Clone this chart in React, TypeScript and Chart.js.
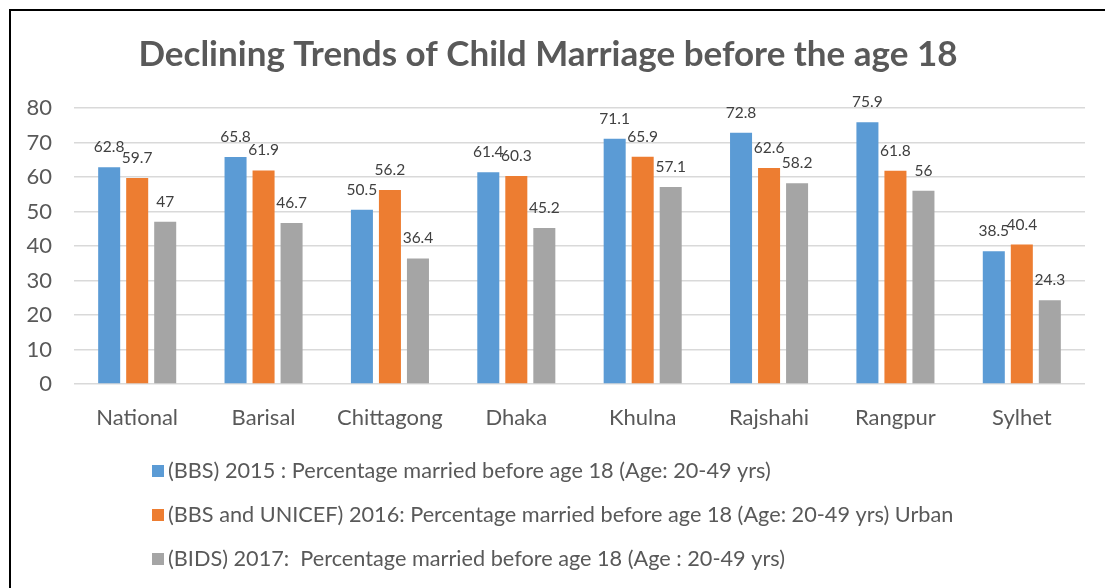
import React, { useEffect, useRef } from "react";
import { Chart, registerables } from "chart.js";

Chart.register(...registerables);

const categories = ["National", "Barisal", "Chittagong", "Dhaka", "Khulna", "Rajshahi", "Rangpur", "Sylhet"];
const bbs2015 = [62.8, 65.8, 50.5, 61.4, 71.1, 72.8, 75.9, 38.5];
const unicef2016 = [59.7, 61.9, 56.2, 60.3, 65.9, 62.6, 61.8, 40.4];
const bids2017 = [47, 46.7, 36.4, 45.2, 57.1, 58.2, 56, 24.3];
const seriesLabels = [
  "(BBS) 2015 : Percentage married before age 18 (Age: 20-49 yrs)",
  "(BBS and UNICEF) 2016: Percentage married before age 18 (Age: 20-49 yrs) Urban",
  "(BIDS) 2017:  Percentage married before age 18 (Age : 20-49 yrs)",
];
const seriesColors = ["#5b9bd5", "#ed7d31", "#a5a5a5"];
const titleText = "Declining Trends of Child Marriage before the age 18";
const yMin = 0;
const yMax = 80;
const yStep = 10;

const FONT = "Lato, 'Open Sans', sans-serif";

const dataLabelPlugin = {
  id: "dataLabels",
  afterDatasetsDraw(chart: any) {
    const ctx = chart.ctx;
    ctx.save();
    ctx.font = `15.5px ${FONT}`;
    ctx.fillStyle = "#404040";
    ctx.textAlign = "center";
    ctx.textBaseline = "middle";
    chart.data.datasets.forEach((ds: any, i: number) => {
      const meta = chart.getDatasetMeta(i);
      meta.data.forEach((el: any, j: number) => {
        ctx.fillText(String(ds.data[j]), el.x, el.y - 20);
      });
    });
    ctx.restore();
  },
};

const legendPlugin = {
  id: "customLegend",
  afterDraw(chart: any) {
    const ctx = chart.ctx;
    const area = chart.chartArea;
    ctx.save();
    ctx.font = `21.7px ${FONT}`;
    ctx.textBaseline = "middle";
    ctx.textAlign = "left";
    chart.data.datasets.forEach((ds: any, i: number) => {
      const y = area.bottom + 87 + i * 44;
      const x = 141;
      ctx.fillStyle = ds.backgroundColor;
      ctx.fillRect(x, y - 6, 12, 12);
      ctx.fillStyle = "#595959";
      ctx.fillText(ds.label, x + 16, y);
    });
    ctx.restore();
  },
};

export default function App() {
  const ref = useRef<HTMLCanvasElement>(null);
  useEffect(() => {
    document.body.style.overflow = "hidden";
    const chart = new Chart(ref.current!, {
      type: "bar",
      data: {
        labels: categories,
        datasets: [
          { label: seriesLabels[0], data: bbs2015, backgroundColor: seriesColors[0] },
          { label: seriesLabels[1], data: unicef2016, backgroundColor: seriesColors[1] },
          { label: seriesLabels[2], data: bids2017, backgroundColor: seriesColors[2] },
        ],
      },
      options: {
        animation: false,
        responsive: false,
        maintainAspectRatio: false,
        datasets: { bar: { categoryPercentage: 0.665, barPercentage: 0.786 } },
        layout: { padding: { left: 0, right: 20, top: 0, bottom: 140 } },
        plugins: {
          legend: { display: false },
          tooltip: { enabled: false },
          title: {
            display: true,
            text: titleText,
            color: "#595959",
            font: { family: FONT, size: 35, weight: "bold", lineHeight: 1.2 },
            padding: { top: 23, bottom: 32 },
          },
        },
        scales: {
          x: {
            grid: { display: false },
            border: { display: false },
            ticks: { color: "#595959", font: { family: FONT, size: 22 }, padding: 13 },
            afterFit: (s: any) => {
              s.height = 64;
            },
          },
          y: {
            min: yMin,
            max: yMax,
            ticks: { stepSize: yStep, color: "#595959", font: { family: FONT, size: 22 }, padding: 22 },
            grid: { color: "#d9d9d9", lineWidth: 1.5, drawTicks: false },
            border: { display: false },
            afterFit: (s: any) => {
              s.width = 63;
            },
          },
        },
      },
      plugins: [dataLabelPlugin, legendPlugin],
    });
    return () => chart.destroy();
  }, []);
  return (
    <div
      style={{
        position: "absolute",
        left: 9,
        top: 9,
        width: 1096,
        height: 579,
        borderLeft: "2px solid #000",
        borderTop: "2px solid #000",
        background: "#fff",
        overflow: "hidden",
      }}
    >
      <canvas ref={ref} width={1094} height={577} style={{ display: "block" }} />
    </div>
  );
}
